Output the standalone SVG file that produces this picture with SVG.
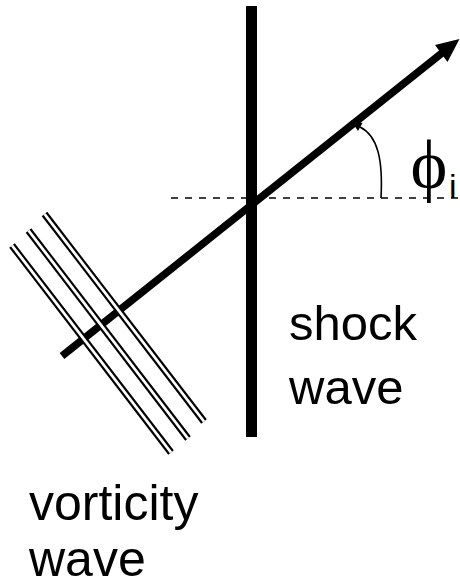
<svg xmlns="http://www.w3.org/2000/svg" width="460" height="587" viewBox="0 0 460 587">
<style>
.lbl{font-family:"Liberation Sans",Arial,sans-serif;font-size:50px;fill:#000}
.pairOuter{stroke:#000;stroke-width:7;fill:none}
.pairInner{stroke:#fff;stroke-width:2.8;fill:none}
</style>
<rect width="460" height="587" fill="#fff"/>
<g id="reference-line">
<line x1="171" y1="198" x2="460" y2="198" stroke="#000" stroke-width="1.6" stroke-dasharray="7 7"/>
</g>
<g id="shock-wave">
<rect x="246" y="6" width="11" height="431" fill="#000"/>
</g>
<g id="connectors">
<g id="incident-ray">
<line x1="62" y1="356" x2="442" y2="53" stroke="#000" stroke-width="7.5"/>
<polygon points="459.5,39 435,45 447.5,62" fill="#000"/>
</g>
<g id="angle-arc">
<path d="M381,198 C383,160 378,136 360,127" stroke="#000" stroke-width="1.6" fill="none"/>
<polygon points="351,120.5 362.5,123 358,131" fill="#000"/>
</g>
</g>
<g id="vorticity-wave">
<line class="pairOuter" x1="12" y1="245.5" x2="171" y2="452.5"/>
<line class="pairInner" x1="12" y1="245.5" x2="171" y2="452.5"/>
<line class="pairOuter" x1="28.5" y1="230.5" x2="188" y2="438.5"/>
<line class="pairInner" x1="28.5" y1="230.5" x2="188" y2="438.5"/>
<line class="pairOuter" x1="44.5" y1="214" x2="204" y2="421.5"/>
<line class="pairInner" x1="44.5" y1="214" x2="204" y2="421.5"/>
</g>
<g id="angle-label">
<text x="429" y="188" font-family="'Liberation Serif','Times New Roman',serif" font-size="70" text-anchor="middle">ϕ</text>
<text x="449" y="198" font-family="'Liberation Sans',Arial,sans-serif" font-size="34">i</text>
</g>
<g id="shock-label">
<text class="lbl" x="289" y="340" style="font-size:49px">shock</text>
<text class="lbl" x="289" y="404" style="font-size:49px">wave</text>
</g>
<g id="vorticity-label">
<text class="lbl" x="29" y="520">vorticity</text>
<text class="lbl" x="29" y="576">wave</text>
</g>
</svg>
